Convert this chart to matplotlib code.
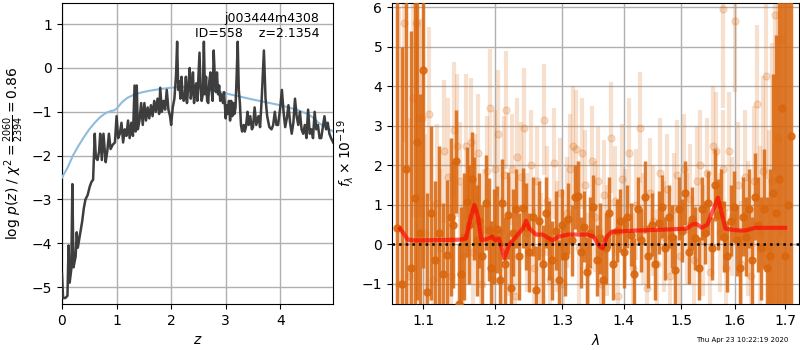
import matplotlib
matplotlib.use('Agg')
import matplotlib.pyplot as plt
import numpy as np

# log p(z) along the redshift grid
pz_z = [0.00, 0.02, 0.06, 0.10, 0.12, 0.14, 0.17, 0.19, 0.21, 0.25,
        0.27, 0.29, 0.33, 0.37, 0.40, 0.43, 0.47, 0.51, 0.54, 0.57,
        0.60, 0.62, 0.65, 0.68, 0.70, 0.73, 0.76, 0.80, 0.83, 0.86,
        0.89, 0.93, 0.97, 1.00, 1.03, 1.06, 1.09, 1.12, 1.15, 1.18,
        1.21, 1.24, 1.27, 1.30, 1.33, 1.35, 1.37, 1.39, 1.42, 1.45,
        1.48, 1.51, 1.54, 1.57, 1.60, 1.63, 1.66, 1.69, 1.72, 1.75,
        1.78, 1.80, 1.83, 1.86, 1.89, 1.92, 1.95, 1.98, 2.00, 2.03,
        2.06, 2.09, 2.11, 2.13, 2.15, 2.17, 2.19, 2.21, 2.23, 2.25,
        2.27, 2.29, 2.32, 2.34, 2.36, 2.38, 2.40, 2.42, 2.44, 2.46,
        2.48, 2.50, 2.52, 2.54, 2.56, 2.58, 2.60, 2.62, 2.64, 2.66,
        2.68, 2.70, 2.72, 2.74, 2.76, 2.78, 2.80, 2.82, 2.84, 2.86,
        2.88, 2.90, 2.92, 2.95, 2.97, 3.00, 3.02, 3.04, 3.06, 3.08,
        3.10, 3.12, 3.14, 3.16, 3.18, 3.20, 3.22, 3.24, 3.26, 3.28,
        3.30, 3.33, 3.35, 3.37, 3.40, 3.42, 3.45, 3.48, 3.50, 3.53,
        3.56, 3.60, 3.63, 3.66, 3.70, 3.73, 3.76, 3.80, 3.84, 3.87,
        3.90, 3.93, 3.96, 4.00, 4.03, 4.06, 4.09, 4.12, 4.15, 4.18,
        4.21, 4.24, 4.27, 4.30, 4.33, 4.36, 4.39, 4.42, 4.45, 4.48,
        4.51, 4.54, 4.57, 4.60, 4.63, 4.66, 4.69, 4.72, 4.75, 4.78,
        4.81, 4.84, 4.87, 4.90, 4.93, 4.97]
pz_log = [-4.70, -5.25, -5.25, -5.20, -4.05, -4.90, -4.60, -2.65, -4.55, -4.30,
          -3.75, -4.10, -3.80, -3.50, -3.20, -3.00, -2.90, -2.70, -2.60, -2.55,
          -1.50, -2.05, -2.10, -1.90, -1.50, -2.10, -1.50, -2.15, -1.90, -1.50,
          -1.85, -1.75, -1.70, -1.10, -1.60, -1.50, -1.25, -1.70, -1.40, -1.55,
          -1.20, -1.60, -1.25, -1.55, -0.40, -1.45, -0.40, -1.40, -1.20, -0.80,
          -1.30, -0.80, -1.20, -0.90, -1.15, -0.85, -1.10, -0.75, -1.00, -0.70,
          -1.05, -0.45, -1.00, -0.75, -0.95, -0.50, -0.95, -1.10, -1.30, -0.90,
          -0.70, -0.15, 0.60, -0.50, -0.30, -0.70, -0.20, -0.60, -0.75, -0.70,
          -0.20, -0.80, -0.35, 0.00, -0.70, -0.50, -0.10, -0.80, -0.50, -0.35,
          -0.75, -0.20, 0.35, -0.50, -0.75, -0.60, 0.60, -0.60, -0.20, -0.75,
          -0.80, -0.30, -0.10, -0.50, -0.75, 0.40, -0.20, -0.55, -0.10, -0.60,
          -0.40, -0.75, -0.60, -0.80, -0.55, -1.15, -0.85, -1.05, -0.75, -1.20,
          -0.75, -1.10, -0.80, -1.05, -0.90, -0.20, 0.60, -0.50, -0.80, -1.30,
          -1.45, -1.30, -1.45, -1.35, -1.00, -1.30, -1.10, -1.40, -1.35, -0.90,
          -1.30, -1.10, -1.35, -0.70, 0.40, -0.70, -1.10, -1.35, -1.40, -1.30,
          -1.00, -1.30, -1.30, -0.90, -0.50, -1.00, -1.35, -1.15, -0.85, -1.25,
          -1.50, -1.25, -0.70, -1.10, -1.30, -1.00, -1.40, -1.50, -1.30, -1.60,
          -0.95, -1.50, -1.40, -1.60, -1.00, -1.40, -1.30, -1.60, -1.60, -1.35,
          -1.10, -1.40, -1.25, -1.50, -1.60, -1.70]

# prior curve
prior_z = [0.0, 0.1, 0.2, 0.3, 0.4, 0.5, 0.6, 0.7, 0.8, 0.9, 0.95, 1.0, 1.1,
           1.2, 1.3, 1.45, 1.6, 1.8, 2.0, 2.3, 2.6, 3.0, 3.5, 4.0, 4.3, 4.5,
           4.6, 4.7, 4.8, 4.97]
prior_log = [-2.50, -2.28, -2.00, -1.78, -1.58, -1.40, -1.25, -1.12, -1.03, -0.98,
             -0.97, -0.93, -0.78, -0.68, -0.62, -0.56, -0.52, -0.48, -0.45, -0.42,
             -0.46, -0.58, -0.72, -0.85, -0.95, -1.05, -1.13, -1.25, -1.33, -1.45]

# binned spectrum (wavelength in microns, flux, error)
bin_wave = [1.066, 1.072, 1.078, 1.084, 1.089, 1.092, 1.096, 1.100, 1.105, 1.111,
            1.116, 1.121, 1.126, 1.132, 1.137, 1.140, 1.144, 1.148, 1.151, 1.155,
            1.159, 1.163, 1.166, 1.170, 1.173, 1.177, 1.181, 1.186, 1.190, 1.194,
            1.198, 1.202, 1.206, 1.210, 1.214, 1.218, 1.222, 1.226, 1.230, 1.235,
            1.240, 1.245, 1.250, 1.255, 1.260, 1.265, 1.270, 1.275, 1.280, 1.285,
            1.290, 1.295, 1.300, 1.305, 1.310, 1.315, 1.320, 1.325, 1.330, 1.335,
            1.340, 1.345, 1.350, 1.355, 1.360, 1.365, 1.370, 1.376, 1.382, 1.388,
            1.394, 1.400, 1.406, 1.412, 1.418, 1.424, 1.430, 1.436, 1.442, 1.448,
            1.454, 1.460, 1.466, 1.472, 1.478, 1.484, 1.490, 1.496, 1.502, 1.508,
            1.514, 1.520, 1.526, 1.532, 1.538, 1.544, 1.550, 1.556, 1.562, 1.568,
            1.574, 1.580, 1.586, 1.592, 1.598, 1.604, 1.610, 1.616, 1.622, 1.628,
            1.634, 1.640, 1.646, 1.652, 1.658, 1.664, 1.670, 1.676, 1.682, 1.688,
            1.694, 1.700, 1.706, 1.712]
bin_flux = [0.42, -1.0, 1.90, -0.6, 1.17, 2.60, 0.30, 4.40, -1.2, 0.79,
            -0.4, 0.3, -0.75, -0.28, 0.7, 0.50, 2.10, -1.5, -0.76, 0.2,
            1.07, 0.5, 1.65, 0.9, 0.10, 0.6, -0.3, 1.05, 0.37, -0.6,
            0.2, 0.38, -0.9, 1.05, -0.5, 0.74, -1.1, 0.3, 0.9, -0.3,
            0.92, 0.45, -0.2, 0.7, -1.15, 0.6, -0.5, 0.8, 0.1, -0.4,
            0.35, -0.9, 0.5, -0.3, 0.65, 0.1, 1.20, 1.22, -0.2, 0.45,
            -0.7, 0.3, 0.95, -0.4, 0.15, -0.9, -0.1, 0.8, -0.5, 0.35,
            0.6, -0.2, 0.7, 0.25, -0.75, 0.9, 0.1, 1.2, -0.3, 0.5,
            -0.5, 0.55, 0.95, -0.1, 0.7, 0.2, -0.65, 0.9, 0.35, 1.3,
            -0.2, 0.65, 0.15, -0.6, 0.9, 0.3, 1.05, -0.1, 1.5, 0.75,
            1.0, 0.2, -0.3, 0.6, 0.95, 0.1, -0.6, 0.7, 0.2, 0.9,
            -0.4, 1.2, 0.5, -0.1, 0.9, -0.6, -0.3, 1.3, 0.8, 1.65,
            3.45, -0.3, 1.0, 2.75]
bin_err = [6.5, 6.0, 5.0, 6.0, 5.0, 4.0, 3.5, 5.0, 2.5, 2.2,
           2.0, 2.2, 1.8, 1.9, 2.0, 1.6, 1.3, 1.5, 1.7, 1.6,
           1.4, 1.5, 1.2, 1.3, 1.4, 1.2, 1.3, 1.2, 1.3, 1.2,
           1.2, 1.1, 1.3, 1.1, 1.2, 1.1, 1.2, 1.1, 1.0, 1.1,
           1.0, 1.1, 1.0, 1.0, 1.1, 1.0, 1.0, 0.9, 1.0, 1.0,
           1.0, 1.0, 0.9, 1.0, 0.9, 0.9, 0.8, 0.9, 0.9, 0.9,
           0.9, 0.9, 0.8, 0.9, 0.9, 0.9, 0.9, 0.9, 0.9, 0.8,
           0.8, 0.9, 0.8, 0.8, 0.9, 0.8, 0.8, 0.9, 0.8, 0.8,
           0.9, 0.8, 0.8, 0.8, 0.8, 0.8, 0.9, 0.8, 0.8, 0.8,
           0.8, 0.8, 0.8, 0.8, 0.8, 0.8, 0.8, 0.8, 0.9, 0.9,
           0.9, 0.9, 0.9, 0.9, 0.9, 0.9, 1.0, 1.0, 1.0, 1.0,
           1.1, 1.1, 1.2, 1.3, 1.5, 1.8, 2.2, 3.0, 4.5, 6.0,
           7.0, 7.0, 8.0, 8.0]

# unbinned spectrum
spec_wave = [1.069, 1.075, 1.081, 1.087, 1.090, 1.094, 1.098, 1.103, 1.108, 1.113,
             1.118, 1.123, 1.128, 1.134, 1.138, 1.142, 1.146, 1.150, 1.154, 1.158,
             1.161, 1.165, 1.168, 1.171, 1.175, 1.179, 1.183, 1.188, 1.192, 1.196,
             1.200, 1.204, 1.208, 1.212, 1.216, 1.220, 1.224, 1.228, 1.232, 1.237,
             1.242, 1.247, 1.252, 1.257, 1.262, 1.267, 1.272, 1.277, 1.282, 1.288,
             1.292, 1.297, 1.302, 1.307, 1.312, 1.317, 1.322, 1.327, 1.332, 1.337,
             1.342, 1.347, 1.352, 1.357, 1.362, 1.367, 1.373, 1.379, 1.385, 1.391,
             1.397, 1.403, 1.409, 1.415, 1.421, 1.427, 1.433, 1.439, 1.445, 1.451,
             1.457, 1.463, 1.469, 1.475, 1.481, 1.487, 1.493, 1.499, 1.505, 1.511,
             1.517, 1.523, 1.529, 1.535, 1.541, 1.547, 1.553, 1.559, 1.565, 1.571,
             1.577, 1.583, 1.589, 1.595, 1.601, 1.607, 1.613, 1.619, 1.625, 1.631,
             1.637, 1.643, 1.649, 1.655, 1.661, 1.667, 1.673, 1.679, 1.685, 1.691,
             1.578]
spec_flux = [-1.0, 5.6, -0.8, 3.7, 5.6, 3.2, 3.2, 0.3, 3.3, -0.9,
             1.05, -0.1, 2.35, 1.7, -0.8, 2.9, 2.5, 1.6, -0.3, 2.5,
             0.7, 2.6, -0.2, 1.2, 2.3, -1.0, 0.4, 1.85, 3.45, -0.9,
             1.9, 2.8, -0.3, 1.75, 3.4, 0.2, 1.9, -1.3, 2.2, 1.7,
             2.95, 0.3, 2.0, -0.6, 1.6, -0.2, 3.15, 1.1, -0.9, 2.05,
             0.2, 1.3, -1.0, 0.8, 1.9, 2.5, 2.4, -0.1, 2.3, 1.5,
             -0.6, 2.1, 0.7, 1.6, -1.0, 1.25, 0.1, 2.7, 1.1, -1.3,
             1.65, 0.5, 2.3, -0.6, 1.0, 2.95, 0.4, -1.1, 1.3, 0.6,
             -0.5, 1.8, 0.2, 1.4, -0.8, 0.9, 1.75, -0.3, 1.9, 0.4,
             1.15, -0.4, 1.6, 2.0, 0.1, 1.8, -0.7, 2.5, 2.35, 0.3,
             1.9, -0.6, 2.35, 0.7, 5.65, 1.5, -0.5, 1.7, 0.4, -0.8,
             1.6, 3.55, 0.3, 1.85, 4.25, -0.1, 1.6, 5.8, 2.7, 5.2,
             5.95]
spec_err = [7.0, 3.0, 4.0, 3.0, 3.0, 2.5, 2.5, 2.5, 2.2, 2.0,
            2.0, 2.0, 1.8, 2.0, 1.8, 1.7, 1.8, 1.5, 1.8, 1.8,
            1.7, 1.6, 1.7, 1.6, 1.5, 1.6, 1.5, 1.4, 1.5, 1.5,
            1.5, 1.6, 1.5, 1.5, 1.5, 1.5, 1.4, 1.5, 1.5, 1.4,
            1.5, 1.5, 1.4, 1.5, 1.4, 1.5, 1.4, 1.4, 1.4, 1.4,
            1.4, 1.4, 1.4, 1.4, 1.4, 1.5, 1.5, 1.4, 1.4, 1.4,
            1.4, 1.4, 1.4, 1.4, 1.4, 1.4, 1.4, 1.4, 1.4, 1.4,
            1.4, 1.4, 1.4, 1.4, 1.4, 1.4, 1.4, 1.4, 1.4, 1.4,
            1.4, 1.4, 1.4, 1.4, 1.4, 1.4, 1.4, 1.4, 1.4, 1.4,
            1.4, 1.4, 1.4, 1.4, 1.4, 1.4, 1.4, 1.5, 1.5, 1.5,
            1.5, 1.5, 1.5, 1.5, 1.8, 1.6, 1.6, 1.7, 1.7, 1.8,
            1.9, 2.0, 2.2, 2.4, 2.6, 3.0, 3.5, 4.0, 4.5, 5.0,
            2.5]

# best-fit model
model_wave = [1.070, 1.080, 1.090, 1.150, 1.158, 1.165, 1.170, 1.175, 1.180, 1.190,
              1.195, 1.200, 1.205, 1.213, 1.220, 1.228, 1.240, 1.245, 1.250, 1.260,
              1.270, 1.285, 1.295, 1.310, 1.340, 1.350, 1.360, 1.365, 1.372, 1.380,
              1.420, 1.480, 1.510, 1.520, 1.528, 1.538, 1.548, 1.560, 1.568, 1.575,
              1.582, 1.600, 1.620, 1.640, 1.670, 1.700]
model_flux = [0.40, 0.12, 0.10, 0.12, 0.15, 0.70, 1.00, 0.70, 0.10, 0.15,
              0.20, 0.10, 0.15, -0.35, 0.00, 0.15, 0.40, 0.60, 0.40, 0.25,
              0.25, 0.10, 0.20, 0.25, 0.25, 0.20, -0.05, -0.10, 0.20, 0.32,
              0.35, 0.38, 0.40, 0.50, 0.52, 0.42, 0.50, 0.90, 1.18, 0.80,
              0.40, 0.36, 0.35, 0.42, 0.42, 0.42]

orange = (0.85, 0.40, 0.05)

fig = plt.figure(figsize=(8, 3.5), dpi=100)
ax1 = fig.add_axes([0.0775, 0.131, 0.339, 0.86])
ax2 = fig.add_axes([0.49, 0.131, 0.509, 0.86])

# redshift panel
ax1.plot(prior_z, prior_log, color='#8fbcdd', lw=1.5, zorder=3)
ax1.plot(pz_z, pz_log, color='#333333', lw=1.8, alpha=0.95, zorder=4)
ax1.set_xlim(0, 4.97)
ax1.set_ylim(-5.39, 1.48)
ax1.set_xticks([0, 1, 2, 3, 4])
ax1.set_yticks([-5, -4, -3, -2, -1, 0, 1])
ax1.grid(True, color='#b0b0b0', lw=1)
ax1.set_xlabel('$z$')
ax1.set_ylabel(r'log $p(z)$ / $\chi^2=\frac{2060}{2394}=0.86$')
ax1.text(0.95, 0.97, 'j003444m4308\nID=558    z=2.1354', transform=ax1.transAxes,
         ha='right', va='top', fontsize=9)

# spectrum panel
ax2.errorbar(spec_wave, spec_flux, yerr=spec_err, fmt='o', color=orange,
             alpha=0.2, ms=5, elinewidth=3, capsize=0, zorder=2)
ax2.errorbar(bin_wave, bin_flux, yerr=bin_err, fmt='o', color=orange,
             alpha=0.85, ms=5, elinewidth=2.5, capsize=0, zorder=3)
ax2.plot(model_wave, model_flux, color='red', alpha=0.65, lw=3, zorder=5)
ax2.axhline(0, color='black', ls=':', lw=1.8, zorder=6)
ax2.set_xscale('log')
ax2.set_xlim(1.0596, 1.729)
ax2.set_ylim(-1.51, 6.1)
ax2.set_xticks([1.1, 1.2, 1.3, 1.4, 1.5, 1.6, 1.7])
ax2.set_xticklabels(['1.1', '1.2', '1.3', '1.4', '1.5', '1.6', '1.7'])
ax2.xaxis.set_minor_locator(matplotlib.ticker.NullLocator())
ax2.set_yticks([-1, 0, 1, 2, 3, 4, 5, 6])
ax2.grid(True, color='#b0b0b0', lw=1)
ax2.set_xlabel(r'$\lambda$')
ax2.set_ylabel(r'$f_\lambda \times 10^{-19}$')

fig.text(0.985, 0.02, 'Thu Apr 23 10:22:19 2020', ha='right', va='bottom', fontsize=5)

fig.savefig('out.png', dpi=100)
